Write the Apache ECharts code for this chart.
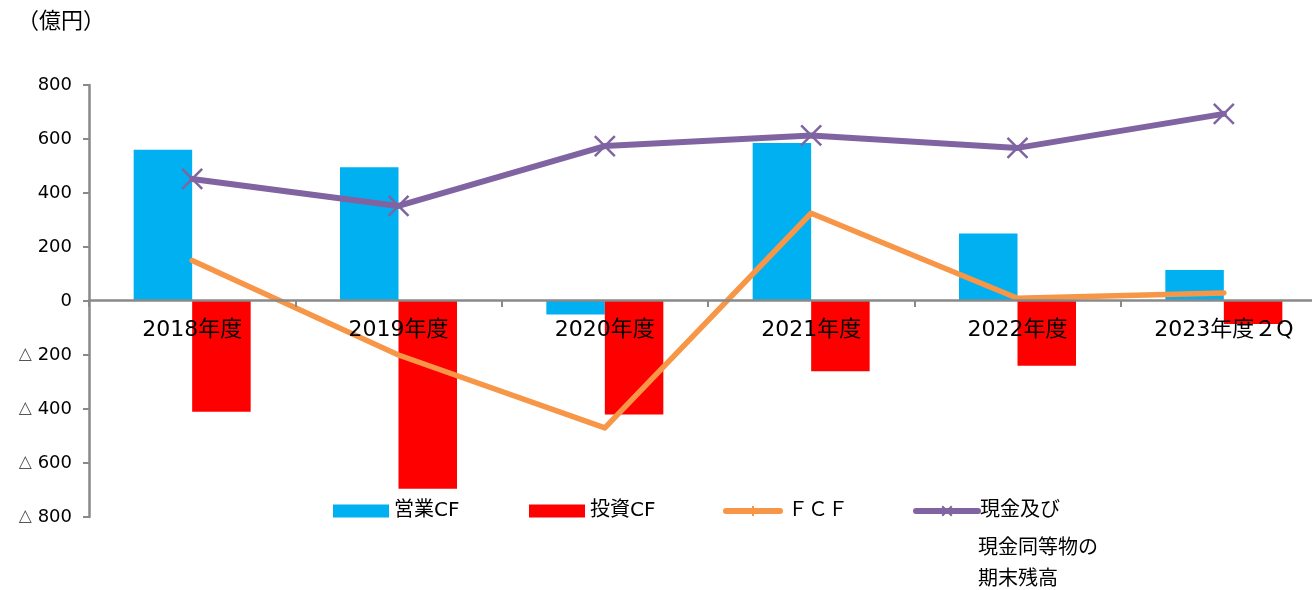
<!DOCTYPE html>
<html>
<head>
<meta charset="utf-8">
<script src="https://cdn.jsdelivr.net/npm/echarts@6/dist/echarts.min.js"></script>
<style>
  html, body { margin: 0; padding: 0; background: #fff; }
  #chart { width: 1312px; height: 590px; }
</style>
</head>
<body>
<div id="chart"></div>
<script>
const categories = ["2018年度", "2019年度", "2020年度", "2021年度", "2022年度", "2023年度２Q"]
const operatingCF = [560, 495, -50, 585, 250, 115]
const investingCF = [-410, -695, -420, -260, -240, -85]
const fcf = [150, -200, -470, 325, 10, 30]
const cashBalance = [452, 352, 574, 613, 567, 693]

const font = '"DejaVu Sans", "Noto Sans CJK JP", sans-serif'
const cjkFont = '"Noto Sans CJK JP", sans-serif'
const axisGray = "#898989"
const cashName = "現金及び現金同等物の期末残高"

const chart = echarts.init(document.getElementById("chart"))

const legendBase = {
  orient: "horizontal",
  top: 501,
  padding: 0,
  itemGap: 0,
  textStyle: { fontFamily: font, fontSize: 20, color: "#000" },
  lineStyle: { width: 6, cap: "round" },
  selectedMode: false,
}

chart.setOption({
  animation: false,
  textStyle: { fontFamily: font },
  grid: {
    left: 89, width: 1238, top: 85, bottom: 73,
    containLabel: false, outerBoundsMode: "none",
  },
  legend: [
    Object.assign({}, legendBase, {
      left: 333, data: ["営業CF"], itemWidth: 56, itemHeight: 13, icon: "rect",
    }),
    Object.assign({}, legendBase, {
      left: 529, data: ["投資CF"], itemWidth: 56, itemHeight: 13, icon: "rect",
    }),
    Object.assign({}, legendBase, {
      left: 723, itemWidth: 60, itemHeight: 10,
      data: [{
        name: "ＦＣＦ",
        icon: "path://M3,4H57A3,3,0,0,1,57,10H3A3,3,0,0,1,3,4Z M29,2H31V12H29Z",
      }],
    }),
    Object.assign({}, legendBase, {
      left: 913, data: [cashName], itemWidth: 62, itemHeight: 12,
      formatter: () => "現金及び",
      textStyle: { fontFamily: font, fontSize: 20, color: "#000", padding: [0, 0, 0, -3] },
    }),
  ],
  graphic: [
    {
      type: "text", left: 17, top: 9,
      style: { text: "（億円）", font: "22px " + cjkFont, fill: "#000" },
    },
    {
      type: "text", left: 978, top: 533,
      style: { text: "現金同等物の\n期末残高", font: "20px " + font, fill: "#000", lineHeight: 31 },
    },
  ],
  xAxis: {
    type: "category",
    data: categories,
    z: 10,
    offset: -217,
    axisLine: { onZero: false, lineStyle: { color: axisGray, width: 2.5 } },
    axisTick: { show: true, length: 7, lineStyle: { color: axisGray, width: 2 } },
    axisLabel: { color: "#000", fontSize: 22, margin: 19, fontFamily: font },
    splitLine: { show: false },
  },
  yAxis: {
    type: "value",
    min: -800,
    max: 800,
    interval: 200,
    axisLine: { show: true, lineStyle: { color: axisGray, width: 2.5 } },
    axisTick: { show: true, length: 6, lineStyle: { color: axisGray, width: 2 } },
    axisLabel: {
      color: "#000", fontSize: 18, margin: 17, fontFamily: font,
      formatter: v => (v < 0 ? "{t|△} " + -v : String(v)),
      rich: { t: { color: "#555", fontSize: 17, fontFamily: font } },
    },
    splitLine: { show: false },
  },
  series: [
    {
      name: "営業CF", type: "bar", data: operatingCF,
      barWidth: 58.5, barGap: "0%",
      itemStyle: { color: "#00B0F0" },
    },
    {
      name: "投資CF", type: "bar", data: investingCF,
      barWidth: 58.5, barGap: "0%",
      itemStyle: { color: "#FF0000" },
    },
    {
      name: "ＦＣＦ", type: "line", data: fcf, z: 5,
      symbol: "none",
      lineStyle: { color: "#F79646", width: 5.5, cap: "round", join: "round" },
      itemStyle: { color: "#F79646" },
    },
    {
      name: cashName, type: "line", data: cashBalance, z: 6,
      symbol: "path://M0,0L10,10M10,0L0,10", symbolSize: 20,
      lineStyle: { color: "#8064A2", width: 6, cap: "round", join: "round" },
      itemStyle: { color: "#8064A2", borderColor: "#8064A2", borderWidth: 2.5 },
    },
  ],
})
</script>
</body>
</html>
